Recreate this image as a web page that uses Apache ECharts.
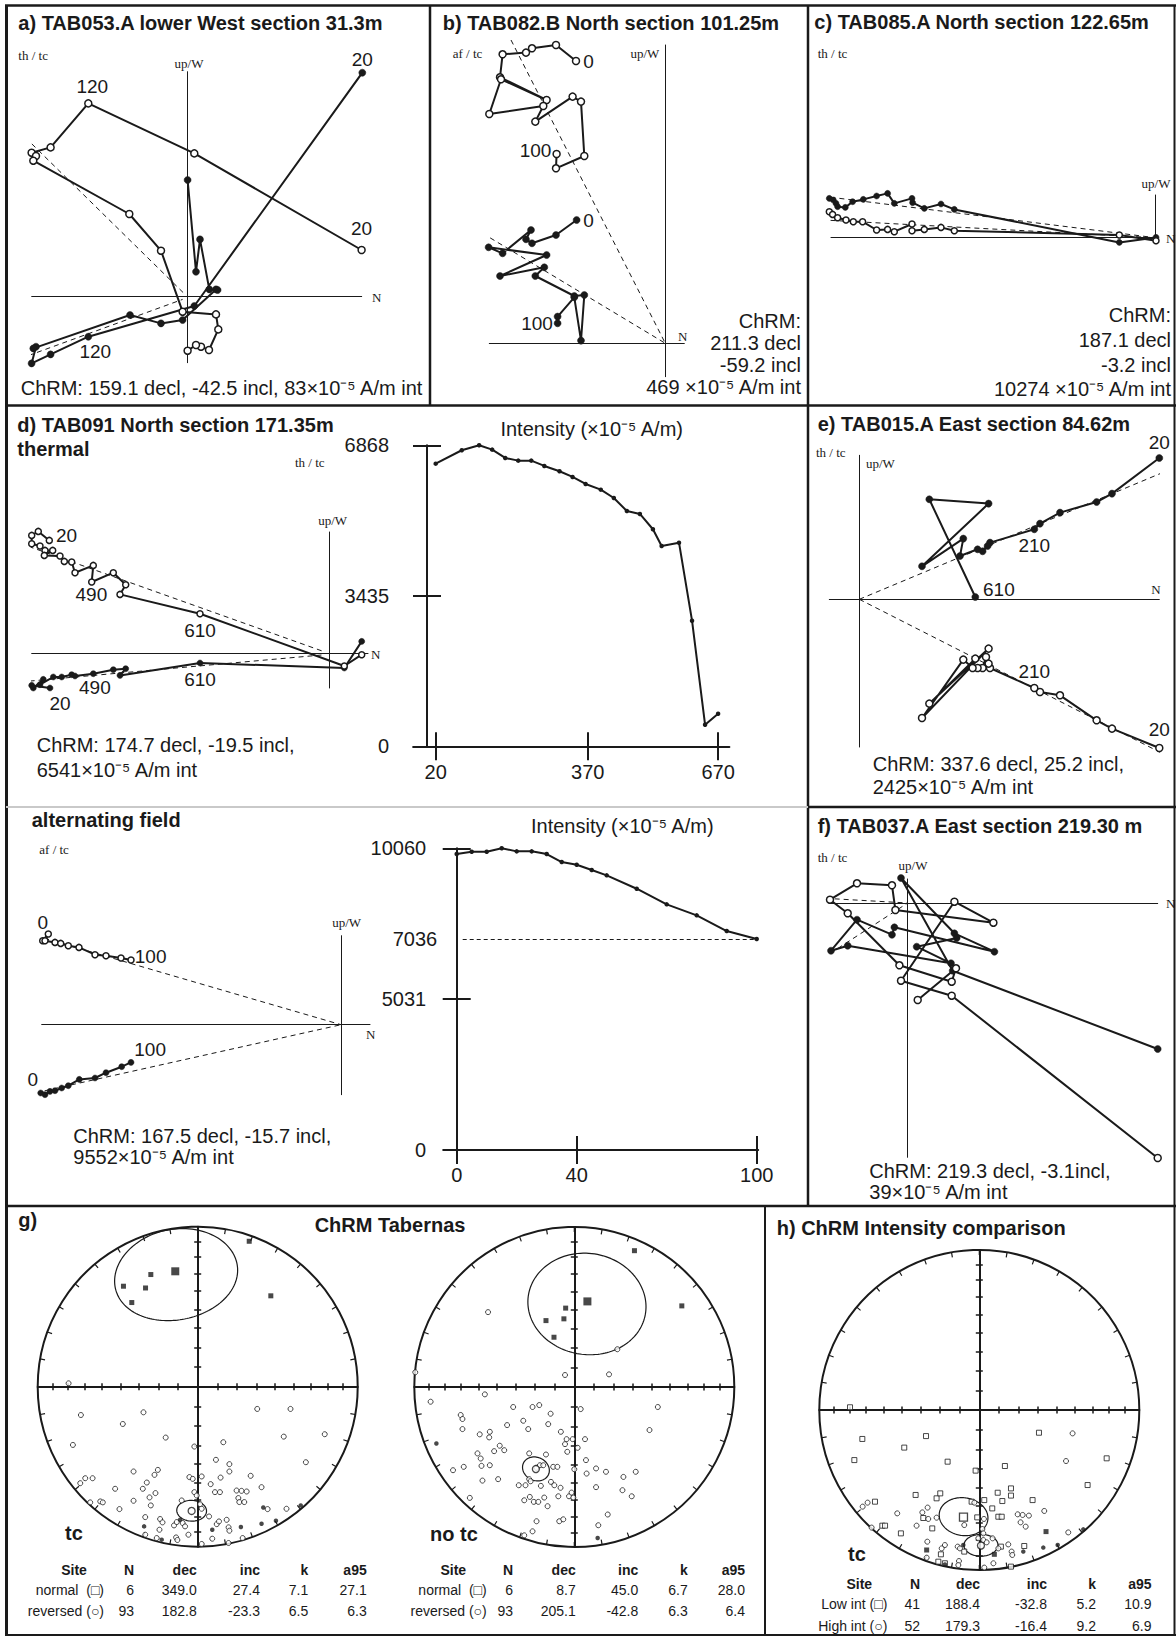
<!DOCTYPE html>
<html>
<head>
<meta charset="utf-8">
<title>Tabernas palaeomagnetism</title>
<script src="https://cdn.jsdelivr.net/npm/echarts@6/dist/echarts.min.js"></script>
<style>
  html, body { margin: 0; padding: 0; background: #fff; }
  #fig { width: 1176px; height: 1636px; }
</style>
</head>
<body>
<div id="fig"></div>
<script>
// ---------------------------------------------------------------------------
// Orthogonal vector plots: demagnetisation end-points [N, up/W] in plot units.
// "open" = vertical-plane projection, "filled" = horizontal-plane projection.
// ---------------------------------------------------------------------------
const aOpen = [[174.3,46.7],[7,143.3],[-99,193.3],[-136.7,149.3],[-155.7,144],[-151.3,140.7],[-154,136],[-58,82.7],[-26.3,46],[-4.7,-15],[28.7,-17.7],[31,-32.7],[21.7,-53.3],[13.7,-50],[8.7,-48.3],[0.3,-54]];
const aFilled = [[175,224],[7,-9.3],[-99,-40],[-136.7,-57.7],[-155.7,-66.7],[-151.3,-50],[-154,-51.7],[-57.3,-18.3],[-26.3,-26.7],[-4.7,-23.3],[28.7,7.3],[30.3,6.7],[22,7.3],[12.7,57.3],[8.7,25],[0.3,116.7]];
const aFits = [[[-174.7,171.7],[-4,4]], [[-175.7,-65],[-4.7,-2.7]]];

const bOpen = [[-89.3,282.3],[-109.3,298.3],[-133.3,295],[-139.3,290.7],[-162.7,289],[-165.3,266],[-118.7,243.3],[-164.3,264],[-176,229.3],[-122,237.3],[-130,221.7],[-92.7,246.7],[-84.3,241.7],[-81,187.3],[-109.3,175],[-108.7,189.3]];
const bFilled = [[-88.7,123.3],[-109.3,108.3],[-133.3,100],[-139.3,104],[-134.3,113.3],[-162.7,90],[-176.7,96],[-118.7,88.3],[-165.3,67.3],[-121,76],[-130,67.3],[-91,47.3],[-81,48.3],[-84.3,2.7],[-91,46],[-107.7,26.7],[-107.7,20]];
const bFits = [[[-154.3,303.3],[0,0]], [[-206,124],[0,0]]];

const cOpen = [[-326,26],[-322.7,23.3],[-317.7,20],[-309.3,17.7],[-302,16],[-292.7,16],[-278.7,7.7],[-267.7,8.3],[-261,6],[-243.3,13.7],[-243.3,7],[-231,8.3],[-214.3,10.3],[-201,7],[-36,2.7],[0.7,-3]];
const cFilled = [[-326,39.3],[-322,37.7],[-319.3,34.3],[-317.7,31],[-310,30.3],[-302.7,36],[-292,38.3],[-278.7,41.7],[-267.7,44.3],[-261,34.3],[-243.3,39.3],[-242.7,35],[-231,29.3],[-214.3,33.7],[-201,28.3],[-36,-4.7],[0.7,0.3]];
const cFits = [[[-342.7,42.7],[0,0]], [[-342.7,18.3],[0,0]]];

const dOpen = [[-279.7,113.3],[-290.7,122.3],[-297.3,118.3],[-297.3,110],[-289,107.7],[-284,103.3],[-276.3,103.3],[-284.7,98.3],[-269,97.7],[-264.7,92.3],[-257.3,91.7],[-254,81],[-235.7,88.3],[-237.3,71.7],[-215.7,81],[-203.3,69],[-209,59.3],[-129,40],[15.3,-12.3],[32.7,-1]];
const dFilled = [[-279,-34.3],[-297.3,-31.7],[-295.7,-34.3],[-285.7,-25.7],[-289,-31],[-275.7,-23.3],[-267.3,-23.3],[-257.3,-21],[-254,-22.3],[-235.7,-20],[-215.7,-16],[-203.3,-15],[-209,-21.7],[-129,-9.3],[15.3,-14.3],[32.7,12.3]];
const dFits = [[[-317.3,113.3],[-4,1.7]], [[-317.3,-29],[-4,-1]]];

const eOpen = [[300,-148.7],[252.7,-129.3],[237.3,-121],[200.7,-96],[180.7,-92.7],[175,-88.7],[130.7,-68.7],[129.3,-64.3],[126.7,-57.7],[123.3,-68.7],[118.3,-68.7],[113.3,-68.7],[104,-60.3],[62.7,-118.7],[129.3,-49.3],[70,-104.3],[116,-59.3]];
const eFilled = [[300,141.3],[252.7,105.7],[237.3,97.3],[200.7,86.7],[180.7,75.7],[175,70],[130.7,56.7],[128.3,53.3],[123.3,48],[118.3,50],[100.7,43.3],[104,60.7],[62.7,33],[129.3,95.7],[70,100],[116,2.3]];
const eFits = [[[0,0],[316.7,132.3]], [[0,0],[310,-157.7]]];

const afOpen = [[-298.3,84],[-292.7,90.7],[-296,84],[-286,82.3],[-280.3,81.3],[-272.7,79],[-262,77.3],[-246,70],[-235,69],[-220,66.7],[-210,64.7]];
const afFilled = [[-300.3,-68.3],[-296,-70],[-291,-66.7],[-286,-66],[-279.3,-63.3],[-272.7,-61],[-261.7,-54.7],[-246,-53.3],[-235,-48],[-219.3,-42],[-210,-37.7]];
const afFits = [[[-322.7,94],[0,0]], [[-322.7,-72],[0,0]]];

const fOpen = [[250,-255],[44,-92.7],[-6.7,-77.7],[46.7,1.3],[85.7,-19.7],[-12.3,-7],[-15.7,17.7],[-50.7,19.7],[-77.7,3.3],[-60,-10.3],[-8.3,-62.3],[44,-78.7],[48.3,-65.3],[10,-97]];
const fFilled = [[250,-146],[45,-67.7],[-6.7,25],[46.7,-30.3],[86.7,-48.7],[-13.3,-24.3],[-15.7,-31.7],[-50.7,-16.7],[-76.7,-47.7],[-60,-42.7],[43.3,-60.3],[9,-43.7],[49,-35]];
const fFits = [[[-100,5.7],[0,0]], [[-100,-65],[0,0]]];

// ---------------------------------------------------------------------------
// Intensity decay curves
// ---------------------------------------------------------------------------
const thermalSteps = [20,80,120,150,180,210,240,270,305,335,365,400,430,460,490,520,540,580,610,640,670];
const thermalIntensity = [6449,6755,6868,6769,6579,6518,6518,6397,6275,6146,5986,5856,5666,5369,5301,4952,4571,4646,2866,493,744];
const thermalTempTicks = [20,370,670];
const thermalIntTicks = [3435,6868];
const thermalIntLabels = [0,3435,6868];

const afSteps = [0,5,10,15,20,25,30,35,40,45,50,60,70,80,90,100];
const afIntensity = [9869,9946,9946,10060,9958,9958,9869,9602,9512,9335,9158,8712,8191,7825,7301,7036];
const afFieldTicks = [0,40,100];
const afIntTicks = [5031,10060];
const afIntLabels = [0,5031,10060];
const afLastLevel = 7036;

// ---------------------------------------------------------------------------
// Equal-area site means, projected [E, N] with the primitive at 100
// ---------------------------------------------------------------------------
const gTcNormal = [[32.2,90.9],[45.7,56.8],[-29.3,70.1],[-46.4,62.8],[-32.6,61.7],[-41.2,52.6]];
const gTcRevUp = [[-80.7,2.1],[-73.0,-17.7],[-33.9,-16.0],[-46.8,-23.3],[-78.0,-36.4],[-20.0,-31.8],[-2.1,-37.4],[16.0,-34.7],[37.2,-13.9],[58.0,-13.9],[53.8,-31.2],[79.4,-29.7],[67.6,-47.2],[11.4,-45.7],[19.8,-48.4],[19.8,-53.0],[-40.1,-53.0],[-24.9,-52.0],[-27.0,-55.1],[-73.4,-60.3],[-70.3,-57.2],[-65.7,-57.2],[-51.6,-63.8],[-31.8,-59.9],[-34.3,-63.8],[-26.4,-66.5],[-30.1,-69.2],[-40.1,-71.3],[-67.2,-72.3],[-60.9,-71.7],[-59.3,-72.3],[-48.9,-76.5],[-29.3,-74.2],[-10.0,-71.1],[-5.2,-56.5],[-3.1,-57.6],[2.5,-56.1],[-2.1,-65.9],[-0.6,-68.0],[8.1,-60.9],[14.3,-56.8],[10.8,-65.9],[13.9,-65.9],[24.3,-64.9],[27.4,-65.1],[30.6,-65.5],[33.1,-55.7],[39.9,-62.8],[25.4,-69.6],[26.0,-72.1],[29.1,-72.1],[1.5,-73.4],[2.5,-76.3],[7.1,-81.1],[-32.8,-81.5],[-23.5,-82.7],[-22.0,-84.8],[-23.9,-89.4],[-14.8,-86.7],[-13.1,-84.6],[-9.4,-85.2],[-7.9,-87.3],[-5.8,-92.5],[-32.8,-92.5],[-25.6,-94.6],[-13.5,-94.2],[-12.7,-95.8],[9.1,-95.0],[11.9,-85.9],[13.3,-84.2],[18.1,-83.2],[19.3,-87.9],[19.8,-90.0],[28.1,-94.6],[19.3,-97.7],[2.5,-98.3],[55.5,-76.3],[43.7,-76.5]];
const gTcRevDown = [[-33.5,-87.3],[-11.0,-83.2],[9.1,-89.4],[27.0,-87.7],[39.9,-85.7],[48.9,-83.8],[64.4,-74.2],[41.0,-75.5],[-22.5,-95.6]];

const gNoTcNormal = [[37.6,85.2],[67.2,50.7],[-5.4,49.3],[-17.7,41.5],[-6.5,42.6],[-12.7,31.1]];
const gNoTcRevUp = [[-53.9,46.8],[26.9,23.6],[21.7,7.9],[-5.8,7.5],[-99.4,9.2],[-89.8,-9.2],[-55.9,-4.6],[-38.2,-12.5],[-26.1,-12.5],[-21.9,-11.3],[-14.8,-16.7],[4.0,-13.8],[52.2,-12.5],[-71.0,-17.5],[-69.9,-20.0],[-69.9,-26.3],[-59.1,-29.6],[-52.8,-28.0],[-53.2,-31.5],[-42.0,-23.8],[-31.9,-21.1],[-28.8,-26.3],[-16.3,-23.2],[-8.4,-28.0],[-4.8,-32.6],[-1.0,-32.6],[-5.8,-35.7],[-4.4,-40.5],[2.1,-38.0],[6.7,-32.6],[47.0,-26.9],[-46.6,-36.7],[-43.8,-39.5],[-50.1,-40.1],[-60.5,-41.5],[-58.5,-44.7],[-69.1,-49.9],[-75.8,-52.0],[-58.0,-49.3],[-52.8,-48.9],[-28.2,-41.5],[-17.7,-42.2],[-13.2,-49.9],[-10.6,-49.9],[0,-51.4],[7.3,-45.7],[7.7,-54.1],[13.6,-50.9],[19.8,-53.0],[30.7,-56.2],[38.4,-53.0],[-57.4,-58.5],[-47.6,-57.6],[-28.2,-57.6],[-27.3,-58.9],[-34.7,-61.4],[-30.5,-61.4],[-20.9,-61.8],[-14.6,-59.3],[-12.5,-61.4],[-8.6,-63.0],[13.6,-62.6],[30.1,-64.5],[35.9,-68.3],[-65.3,-69.3],[-31.3,-70.8],[-27.8,-68.7],[-25.3,-71.8],[-22.5,-71.8],[-18.8,-69.1],[-10.0,-68.3],[-3.3,-68.3],[-1.7,-66.0],[-0.6,-69.1],[-16.7,-74.5],[-23.6,-83.9],[-9.4,-83.9],[-6.9,-82.7],[-26.1,-90.2],[-31.3,-92.7],[15.0,-86.4],[20.9,-79.7],[-23.6,-50.5],[-21.5,-48.9],[-19.4,-48.9]];
const gNoTcRevDown = [[-86.2,-35.3],[14.6,-94.4]];

const hLowUp = [[-80.8,1.7],[-73.1,-18.1],[-33.3,-16.3],[-46.9,-23.5],[-78.1,-31.3],[-19.8,-32.3],[-2.3,-37.9],[16.0,-35.0],[37.3,-14.2],[79.6,-30.2],[67.7,-46.9],[11.5,-51.7],[19.8,-49.0],[19.8,-53.5],[33.3,-56.3],[14.4,-56.9],[3.1,-56.3],[8.1,-61.5],[11.9,-66.7],[14.0,-66.7],[-39.8,-53.1],[-26.7,-55.2],[-24.4,-52.1],[-65.2,-57.3],[-4.8,-57.3],[-1.3,-67.1],[-29.4,-74.0],[-35.0,-67.5],[-60.6,-72.3],[-58.9,-72.3],[-49.0,-77.1],[-24.0,-90.2],[-25.6,-94.8],[-21.5,-95.8],[-9.4,-88.5],[19.8,-97.9],[28.1,-85.0],[13.5,-85.4]];
const hLowDown = [[-32.9,-87.5],[9.4,-90.2],[41.7,-76.0]];
const hHighUp = [[58.3,-14.6],[54.2,-31.9],[40.6,-63.1],[55.6,-76.5],[-72.9,-60.4],[-69.8,-57.9],[-51.3,-64.6],[-67.3,-73.5],[-39.2,-72.3],[-35.6,-64.0],[-32.3,-61.0],[-26.7,-67.3],[-9.4,-71.9],[-3.1,-57.9],[2.9,-68.1],[1.9,-74.4],[2.5,-77.1],[-0.6,-80.2],[2.5,-81.3],[4.6,-82.7],[8.3,-80.2],[24.0,-65.2],[27.1,-65.6],[31.0,-66.0],[25.8,-70.2],[29.0,-72.9],[-32.5,-82.3],[-32.9,-92.3],[-21.5,-84.4],[-23.5,-86.5],[-13.5,-85.4],[-12.1,-86.5],[-12.7,-94.4],[-13.1,-96.9],[18.1,-84.0],[20.2,-88.5],[20.6,-90.6],[8.8,-95.8],[3.1,-98.5],[11.9,-86.5],[-31.9,-68.1]];
const hHighDown = [[27.5,-88.5],[40.0,-86.0],[49.0,-84.4],[65.0,-74.6],[-10.0,-84.4],[-21.5,-96.5]];

// Fisher statistics: [site, N, dec, inc, k, a95]
const tableHead = ['Site','N','dec','inc','k','a95'];
const gTcStats = [['normal  (\u25A1)', 6, 349.0, 27.4, 7.1, 27.1], ['reversed (\u25CB)', 93, 182.8, -23.3, 6.5, 6.3]];
const gNoTcStats = [['normal  (\u25A1)', 6, 8.7, 45.0, 6.7, 28.0], ['reversed (\u25CB)', 93, 205.1, -42.8, 6.3, 6.4]];
const hStats = [['Low int (\u25A1)', 41, 188.4, -32.8, 5.2, 10.9], ['High int (\u25CB)', 52, 179.3, -16.4, 9.2, 6.9]];

// inclination rings marked on the net diameters
const netTickIncs = [10,20,30,40,50,60,70,80];

// ---------------------------------------------------------------------------
const SANS = "'Liberation Sans', Arial, Helvetica, sans-serif";
const SERIF = "'Liberation Serif', 'Times New Roman', serif";
const INK = '#1a1a1a';
const DEG = Math.PI / 180;

const grids = [], xAxes = [], yAxes = [], series = [], graphics = [];
const polars = [], angleAxes = [], radiusAxes = [];

function addGrid(left, top, width, height) {
  grids.push({ left, top, width, height, containLabel: false, outerBoundsMode: 'none', show: false });
  return grids.length - 1;
}
function hiddenAxis(gi, ext, extra) {
  return Object.assign({
    type: 'value', gridIndex: gi, min: ext[0], max: ext[1],
    axisLine: { show: false }, axisTick: { show: false }, axisLabel: { show: false },
    splitLine: { show: false }, splitArea: { show: false }
  }, extra || {});
}
function text(str, x, y, align, font, fill) {
  return { type: 'text', x, y, silent: true, z: 10,
    style: { text: str, font, fill: fill || INK, align, textAlign: align, verticalAlign: 'middle', textVerticalAlign: 'middle' } };
}
function rule(x1, y1, x2, y2, w, c) {
  return { type: 'line', silent: true, z: 9, shape: { x1, y1, x2, y2 }, style: { stroke: c || INK, lineWidth: w } };
}

// ---------------- orthogonal (Zijderveld) plots ----------------
const ZIJ = [
  { origin: [187.3, 296.7], x: [-155.6, 174.4], y: [-66, 225], sym: 7, open: aOpen, filled: aFilled, fits: aFits,
    labels: [{ s: 'open', i: 0, t: '20', pos: 'top', d: 8 }, { s: 'filled', i: 0, t: '20', pos: 'top', d: 0 },
             { s: 'open', i: 2, t: '120', pos: 'top', d: 3, off: [4, 0] }, { s: 'filled', i: 2, t: '120', pos: 'bottom', d: 2, off: [7, 0] }] },
  { origin: [665.3, 343.3], x: [-176, 19], y: [-33.4, 298.3], sym: 7, open: bOpen, filled: bFilled, fits: bFits,
    labels: [{ s: 'open', i: 0, t: '0', pos: 'right', d: 3 }, { s: 'open', i: 15, t: '100', pos: 'left', d: 1, off: [0, -4] },
             { s: 'filled', i: 0, t: '0', pos: 'right', d: 3 }, { s: 'filled', i: 16, t: '100', pos: 'left', d: 1 }] },
  { origin: [1155.3, 237.7], x: [-324.3, 0], y: [0, 42.7], sym: 6, open: cOpen, filled: cFilled, fits: cFits, labels: [] },
  { origin: [329, 653.7], x: [-297.3, 39], y: [-34.3, 121.7], sym: 6, open: dOpen, filled: dFilled, fits: dFits,
    labels: [{ s: 'open', i: 0, t: '20', pos: 'right', d: 3, off: [0, -5] }, { s: 'open', i: 16, t: '490', pos: 'left', d: 9 },
             { s: 'open', i: 17, t: '610', pos: 'bottom', d: 4 }, { s: 'filled', i: 0, t: '20', pos: 'bottom', d: 3, off: [10, 0] },
             { s: 'filled', i: 12, t: '490', pos: 'left', d: 6, off: [0, 12] }, { s: 'filled', i: 13, t: '610', pos: 'bottom', d: 4 }] },
  { origin: [859.3, 599.3], x: [-30, 300], y: [-147.7, 144], sym: 7, open: eOpen, filled: eFilled, fits: eFits,
    labels: [{ s: 'filled', i: 0, t: '20', pos: 'top', d: 2 }, { s: 'filled', i: 5, t: '210', pos: 'bottom', d: 3 },
             { s: 'filled', i: 15, t: '610', pos: 'right', d: 4, off: [0, -8] }, { s: 'open', i: 0, t: '20', pos: 'top', d: 5 },
             { s: 'open', i: 5, t: '210', pos: 'top', d: 3 }] },
  { origin: [341, 1024.7], x: [-299.3, 29], y: [-70, 89], sym: 6, open: afOpen, filled: afFilled, fits: afFits,
    labels: [{ s: 'open', i: 0, t: '0', pos: 'top', d: 5 }, { s: 'open', i: 10, t: '100', pos: 'right', d: 0, off: [0, -4] },
             { s: 'filled', i: 0, t: '0', pos: 'top', d: 1, off: [-8, 0] }, { s: 'filled', i: 10, t: '100', pos: 'right', d: 0, off: [0, -13] }] },
  { origin: [907.7, 903], x: [-77.7, 250], y: [-254.3, 24], sym: 7, open: fOpen, filled: fFilled, fits: fFits, labels: [] }
];

function buildZijderveld(p) {
  const ox = p.origin[0], oy = p.origin[1];
  const gi = addGrid(ox + p.x[0], oy - p.y[1], p.x[1] - p.x[0], p.y[1] - p.y[0]);
  const axisLine = { show: true, onZero: true, lineStyle: { color: INK, width: 1 } };
  const xi = xAxes.push(hiddenAxis(gi, p.x, { position: 'bottom', axisLine })) - 1;
  const yi = yAxes.push(hiddenAxis(gi, p.y, { position: 'left', axisLine })) - 1;
  p.fits.forEach(f => series.push({
    type: 'line', xAxisIndex: xi, yAxisIndex: yi, data: f, symbol: 'none', clip: false, silent: true, z: 2,
    lineStyle: { color: INK, width: 1, type: [5, 4] }
  }));
  [['filled', p.filled], ['open', p.open]].forEach(([kind, pts]) => {
    const data = pts.map((v, i) => {
      const l = p.labels.find(m => m.s === kind && m.i === i);
      return l ? { value: v, label: { show: true, formatter: l.t, position: l.pos, distance: l.d, offset: l.off || [0, 0] } } : v;
    });
    series.push({
      type: 'line', xAxisIndex: xi, yAxisIndex: yi, data, clip: false, silent: true,
      symbol: 'circle', symbolSize: p.sym, showSymbol: true, z: kind === 'open' ? 4 : 3,
      lineStyle: { color: INK, width: 2 },
      itemStyle: kind === 'open' ? { color: '#fff', borderColor: INK, borderWidth: 1.5 } : { color: INK, borderColor: INK, borderWidth: 0.5 },
      label: { show: false, fontFamily: SANS, fontSize: 19, color: INK }
    });
  });
}
ZIJ.forEach(buildZijderveld);

// ---------------- intensity decay plots ----------------
const plainNumber = v => String(v);
function buildIntensity(c) {
  const gi = addGrid(c.box[0], c.box[1], c.box[2], c.box[3]);
  const tickStyle = { color: INK, width: 2 };
  const lab = { show: true, fontFamily: SANS, fontSize: 20, color: INK, formatter: plainNumber };
  const ghostLine = { show: true, onZero: true, lineStyle: { color: 'rgba(0,0,0,0)', width: 1 } };
  const xi = xAxes.push(hiddenAxis(gi, c.x, {
    position: 'bottom',
    axisLine: { show: true, onZero: true, lineStyle: { color: INK, width: 2 } },
    axisTick: { show: true, inside: false, length: 14, customValues: c.xTicks, lineStyle: tickStyle },
    axisLabel: Object.assign({ customValues: c.xTicks, margin: c.xMargin }, lab)
  })) - 1;
  xAxes.push(hiddenAxis(gi, c.x, {
    position: 'bottom', axisLine: ghostLine,
    axisTick: { show: true, inside: true, length: 14, customValues: c.xTicks, lineStyle: tickStyle }
  }));
  const yi = yAxes.push(hiddenAxis(gi, [0, c.yMax], {
    position: 'left',
    axisLine: { show: true, onZero: true, lineStyle: { color: INK, width: 2 } },
    axisTick: { show: true, inside: false, length: 14, customValues: c.yTicks, lineStyle: tickStyle },
    axisLabel: Object.assign({ customValues: c.yLabels, margin: c.yMargin }, lab)
  })) - 1;
  yAxes.push(hiddenAxis(gi, [0, c.yMax], {
    position: 'left', axisLine: ghostLine,
    axisTick: { show: true, inside: true, length: 14, customValues: c.yTicks, lineStyle: tickStyle },
    axisLabel: c.yLabels2 ? Object.assign({ customValues: c.yLabels2, margin: c.yMargin2 }, lab) : { show: false }
  }));
  const s = {
    type: 'line', xAxisIndex: xi, yAxisIndex: yi, clip: false, silent: true, z: 3,
    data: c.steps.map((v, i) => [v, c.values[i]]),
    symbol: 'circle', symbolSize: 4.5, showSymbol: true,
    lineStyle: { color: INK, width: 2 }, itemStyle: { color: INK }
  };
  if (c.level !== undefined) {
    s.markLine = {
      silent: true, symbol: ['none', 'none'], label: { show: false },
      lineStyle: { color: INK, width: 1, type: [4, 3] },
      data: [[{ coord: [c.steps[0] + 2, c.level] }, { coord: [c.steps[c.steps.length - 1], c.level] }]]
    };
  }
  series.push(s);
}
buildIntensity({ box: [413.1, 445.3, 316.3, 301], x: [-32, 696], yMax: 6868,
  steps: thermalSteps, values: thermalIntensity, xTicks: thermalTempTicks, xMargin: 16,
  yTicks: thermalIntTicks, yLabels: thermalIntLabels, yMargin: 24 });
buildIntensity({ box: [443.2, 848.3, 315, 301.7], x: [-4.5, 100.5], yMax: 10060,
  steps: afSteps, values: afIntensity, xTicks: afFieldTicks, xMargin: 15,
  yTicks: afIntTicks, yLabels: afIntLabels, yMargin: 17, yLabels2: [afLastLevel], yMargin2: 6, level: afLastLevel });

// ---------------- equal-area nets ----------------
function eqArea(inc) { return 100 * Math.SQRT2 * Math.sin((90 - Math.abs(inc)) / 2 * DEG); }
function project(dec, inc) { const r = eqArea(inc); return [r * Math.sin(dec * DEG), r * Math.cos(dec * DEG)]; }
function coneOutline(dec, inc, a95) {
  const D = dec * DEG, I = inc * DEG, A = a95 * DEG;
  const m = [Math.cos(I) * Math.cos(D), Math.cos(I) * Math.sin(D), Math.sin(I)];
  const u = [-Math.sin(I) * Math.cos(D), -Math.sin(I) * Math.sin(D), Math.cos(I)];
  const v = [-Math.sin(D), Math.cos(D), 0];
  const pts = [];
  for (let k = 0; k <= 144; k++) {
    const t = k / 144 * 2 * Math.PI;
    const p = [0, 1, 2].map(j => Math.cos(A) * m[j] + Math.sin(A) * (Math.cos(t) * u[j] + Math.sin(t) * v[j]));
    const i2 = Math.asin(Math.max(-1, Math.min(1, p[2]))) / DEG;
    const d2 = Math.atan2(p[1], p[0]) / DEG;
    pts.push(project(d2, i2));
  }
  return pts;
}
const NET_R = 160;
const netTicks = netTickIncs.map(eqArea).flatMap(r => [-r, r]);
const openStyle = { color: '#fff', borderColor: INK, borderWidth: 1 };
const solidStyle = { color: INK };

const NETS = [
  { center: [197.7, 1386.7], stats: gTcStats, meanSym: ['rect', 'circle'],
    groups: [{ data: gTcNormal, symbol: 'rect', size: 5, open: false }, { data: gTcRevUp, symbol: 'circle', size: 5, open: true },
             { data: gTcRevDown, symbol: 'circle', size: 4.5, open: false }] },
  { center: [574.3, 1387], stats: gNoTcStats, meanSym: ['rect', 'circle'],
    groups: [{ data: gNoTcNormal, symbol: 'rect', size: 5, open: false }, { data: gNoTcRevUp, symbol: 'circle', size: 5, open: true },
             { data: gNoTcRevDown, symbol: 'circle', size: 4.5, open: false }] },
  { center: [979.3, 1410], stats: hStats, meanSym: ['rect', 'circle'],
    groups: [{ data: hLowUp, symbol: 'rect', size: 5, open: true }, { data: hLowDown, symbol: 'rect', size: 5, open: false },
             { data: hHighUp, symbol: 'circle', size: 5, open: true }, { data: hHighDown, symbol: 'circle', size: 4.5, open: false }] }
];

function buildNet(n) {
  const cx = n.center[0], cy = n.center[1], R = NET_R;
  const pi = polars.push({ center: [cx, cy], radius: R }) - 1;
  angleAxes.push({ polarIndex: pi, type: 'value', min: 0, max: 360, interval: 10, startAngle: 90, clockwise: true,
    axisLine: { show: true, lineStyle: { color: INK, width: 2 } },
    axisTick: { show: true, inside: true, length: 5, lineStyle: { color: INK, width: 1.2 } },
    axisLabel: { show: false }, splitLine: { show: false }, splitArea: { show: false } });
  radiusAxes.push({ polarIndex: pi, type: 'value', min: 0, max: 1,
    axisLine: { show: false }, axisTick: { show: false }, axisLabel: { show: false }, splitLine: { show: false }, splitArea: { show: false } });
  const gi = addGrid(cx - R, cy - R, 2 * R, 2 * R);
  const line = { show: true, onZero: true, lineStyle: { color: INK, width: 2 } };
  const ghost = { show: true, onZero: true, lineStyle: { color: 'rgba(0,0,0,0)', width: 1 } };
  const tick = inside => ({ show: true, inside, length: 3.5, customValues: netTicks, lineStyle: { color: INK, width: 1.5 } });
  const xi = xAxes.push(hiddenAxis(gi, [-100, 100], { position: 'bottom', axisLine: line, axisTick: tick(false) })) - 1;
  xAxes.push(hiddenAxis(gi, [-100, 100], { position: 'bottom', axisLine: ghost, axisTick: tick(true) }));
  const yi = yAxes.push(hiddenAxis(gi, [-100, 100], { position: 'left', axisLine: line, axisTick: tick(false) })) - 1;
  yAxes.push(hiddenAxis(gi, [-100, 100], { position: 'left', axisLine: ghost, axisTick: tick(true) }));

  n.stats.forEach(row => series.push({
    type: 'line', xAxisIndex: xi, yAxisIndex: yi, data: coneOutline(row[2], row[3], row[5]),
    symbol: 'none', clip: false, silent: true, z: 3, lineStyle: { color: INK, width: 1.2 }
  }));
  n.groups.forEach(g => series.push({
    type: 'scatter', xAxisIndex: xi, yAxisIndex: yi, data: g.data, symbol: g.symbol, symbolSize: g.size,
    clip: false, silent: true, z: 4, itemStyle: g.open ? openStyle : solidStyle
  }));
  n.stats.forEach((row, k) => series.push({
    type: 'scatter', xAxisIndex: xi, yAxisIndex: yi, data: [project(row[2], row[3])],
    symbol: n.meanSym[k], symbolSize: n.meanSym[k] === 'rect' ? 8 : 7, clip: false, silent: true, z: 5,
    itemStyle: row[3] < 0 ? { color: '#fff', borderColor: INK, borderWidth: 1.3 } : solidStyle
  }));
}
NETS.forEach(buildNet);

// ---------------- statistics tables ----------------
function buildTable(t, rows) {
  const bold = 'bold 14px ' + SANS, reg = '14px ' + SANS;
  graphics.push(text(tableHead[0], t.site, t.y[0], 'center', bold));
  tableHead.slice(1).forEach((h, j) => graphics.push(text(h, t.cols[j], t.y[0], 'right', bold)));
  rows.forEach((r, i) => {
    graphics.push(text(r[0], t.label, t.y[i + 1], 'right', reg));
    [String(r[1]), r[2].toFixed(1), r[3].toFixed(1), r[4].toFixed(1), r[5].toFixed(1)]
      .forEach((v, j) => graphics.push(text(v, t.cols[j], t.y[i + 1], 'right', reg)));
  });
}
buildTable({ site: 74, label: 104, cols: [134, 196.7, 260, 308.3, 366.7], y: [1570, 1590, 1610.7] }, gTcStats);
buildTable({ site: 453.3, label: 486.7, cols: [513, 575.7, 638.3, 687.7, 745], y: [1570, 1590, 1610.7] }, gNoTcStats);
buildTable({ site: 859.3, label: 887.3, cols: [920, 980, 1047, 1096, 1151.5], y: [1584.3, 1604.3, 1625.7] }, hStats);

// ---------------- panel frame ----------------
graphics.push(
  rule(6.5, 5, 6.5, 1636, 3), rule(5, 5.5, 1176, 5.5, 2.5), rule(1174.5, 5, 1174.5, 1636, 2), rule(5, 1635, 1176, 1635, 2),
  rule(5, 405.5, 1176, 405.5, 2.5), rule(430, 5, 430, 405.5, 2.5), rule(808, 5, 808, 1206, 2.5),
  rule(6, 807, 808, 807, 2, '#c9c9c9'), rule(808, 807, 1176, 807, 2.5),
  rule(5, 1206, 1176, 1206, 2.5), rule(765, 1206, 765, 1636, 2)
);

// ---------------- titles and annotations ----------------
const TB = 'bold 20px ' + SANS, TR = '20px ' + SANS, TS = '13px ' + SERIF;
[
  ['a) TAB053.A lower West section 31.3m', 18.3, 23.3], ['b) TAB082.B North section 101.25m', 442.7, 23.3],
  ['c) TAB085.A North section 122.65m', 814.3, 22], ['d) TAB091 North section 171.35m', 17.3, 425.3],
  ['thermal', 17.3, 448.7], ['e) TAB015.A East section 84.62m', 817.7, 423.7], ['alternating field', 31.7, 820],
  ['f) TAB037.A East section 219.30 m', 817.7, 825.7], ['g)', 18.3, 1220], ['h) ChRM Intensity comparison', 776.7, 1227.7]
].forEach(t => graphics.push(text(t[0], t[1], t[2], 'left', TB)));
graphics.push(text('ChRM Tabernas', 390, 1225, 'center', TB));
graphics.push(text('tc', 65, 1533, 'left', TB), text('no tc', 430, 1534, 'left', TB), text('tc', 848, 1554, 'left', TB));

[
  ['ChRM: 159.1 decl, -42.5 incl, 83\u00D710\u207B\u2075 A/m int', 20.7, 388.3, 'left'],
  ['ChRM:', 801, 320.7, 'right'], ['211.3 decl', 801, 342.7, 'right'], ['-59.2 incl', 801, 365, 'right'], ['469 \u00D710\u207B\u2075 A/m int', 801, 387, 'right'],
  ['ChRM:', 1171, 315, 'right'], ['187.1 decl', 1171, 340, 'right'], ['-3.2 incl', 1171, 365, 'right'], ['10274 \u00D710\u207B\u2075 A/m int', 1171, 389.3, 'right'],
  ['ChRM: 174.7 decl, -19.5 incl,', 36.7, 745.3, 'left'], ['6541\u00D710\u207B\u2075 A/m int', 36.7, 770.3, 'left'],
  ['ChRM: 337.6 decl, 25.2 incl,', 872.7, 763.7, 'left'], ['2425\u00D710\u207B\u2075 A/m int', 872.7, 787, 'left'],
  ['ChRM: 167.5 decl, -15.7 incl,', 73.3, 1135.7, 'left'], ['9552\u00D710\u207B\u2075 A/m int', 73.3, 1157.3, 'left'],
  ['ChRM: 219.3 decl, -3.1incl,', 869.3, 1170.7, 'left'], ['39\u00D710\u207B\u2075 A/m int', 869.3, 1192.3, 'left'],
  ['Intensity (\u00D710\u207B\u2075 A/m)', 591.7, 429.3, 'center'], ['Intensity (\u00D710\u207B\u2075 A/m)', 622.3, 825.7, 'center']
].forEach(t => graphics.push(text(t[0], t[1], t[2], t[3], TR)));

[
  ['th / tc', 18.3, 55, 'left'], ['up/W', 189, 63, 'center'], ['N', 372, 297, 'left'],
  ['af / tc', 452.7, 53.3, 'left'], ['up/W', 659.3, 53, 'right'], ['N', 682.7, 336.7, 'center'],
  ['th / tc', 817.7, 53.3, 'left'], ['up/W', 1156, 183, 'center'], ['N', 1166, 238, 'left'],
  ['th / tc', 295, 462.7, 'left'], ['up/W', 332.7, 520.3, 'center'], ['N', 371, 654.5, 'left'],
  ['th / tc', 816, 452, 'left'], ['up/W', 866, 463.7, 'left'], ['N', 1156, 589.3, 'center'],
  ['af / tc', 39.3, 849, 'left'], ['up/W', 346.7, 922.3, 'center'], ['N', 366, 1034, 'left'],
  ['th / tc', 817.7, 857.3, 'left'], ['up/W', 913, 865.7, 'center'], ['N', 1166, 903, 'left']
].forEach(t => graphics.push(text(t[0], t[1], t[2], t[3], TS)));

const chart = echarts.init(document.getElementById('fig'), null, { renderer: 'svg', width: 1176, height: 1636 });
chart.setOption({
  animation: false,
  backgroundColor: '#ffffff',
  textStyle: { fontFamily: SANS },
  grid: grids, xAxis: xAxes, yAxis: yAxes,
  polar: polars, angleAxis: angleAxes, radiusAxis: radiusAxes,
  series,
  graphic: graphics
});
</script>
</body>
</html>
